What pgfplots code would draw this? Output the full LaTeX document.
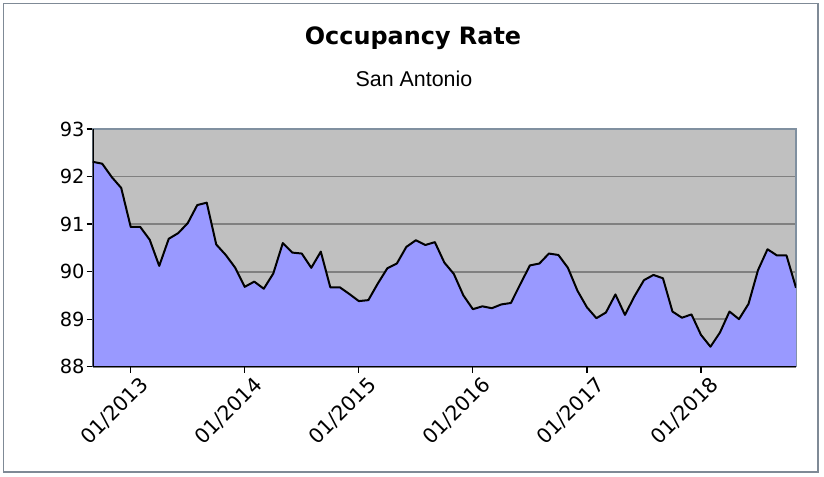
\documentclass[border=0pt]{standalone}
\usepackage{fontspec}
\usepackage{pgfplots}
\pgfplotsset{compat=1.18}
\setmainfont{DejaVu Sans}
\newfontfamily\arialfont{Liberation Sans}
\definecolor{plotgray}{HTML}{C0C0C0}
\definecolor{gridgray}{HTML}{808080}
\definecolor{areablue}{HTML}{9999FF}
\definecolor{framegray}{HTML}{8090A0}
\definecolor{outergray}{HTML}{7F8A96}
\begin{document}
\begin{tikzpicture}[x=1bp,y=1bp]
\path[use as bounding box] (0,0) rectangle (824,477);
\draw[outergray, line width=1.5bp] (3.5,5) rectangle (818,473.5);
\node[anchor=base, font=\fontsize{24}{24}\selectfont\bfseries, inner sep=0pt] at (413,432) {Occupancy Rate};
\node[anchor=base, font=\arialfont\fontsize{21.5}{21.5}\selectfont, inner sep=0pt] at (414,390) {San Antonio};
\begin{axis}[
  at={(92.7bp,110.3bp)}, anchor=south west,
  scale only axis, width=703.3bp, height=237.7bp,
  xmin=0, xmax=74, ymin=88, ymax=93,
  xtick={4,16,28,40,52,64},
  xticklabels={01/2013,01/2014,01/2015,01/2016,01/2017,01/2018},
  ytick={88,89,90,91,92,93},
  axis background/.style={fill=plotgray},
  ymajorgrids, grid style={gridgray, line width=1.8bp},
  axis line style={framegray, line width=1.5bp},
  tick align=outside, tick pos=left,
  major tick length=6bp,
  tick style={black, line width=1.2bp},
  /pgf/number format/assume math mode=true,
  x tick label style={rotate=45, anchor=north east, font=\fontsize{20.5}{20.5}\selectfont, inner sep=1pt, xshift=5bp, yshift=-6bp},
  y tick label style={font=\fontsize{19.5}{19.5}\selectfont, inner sep=2pt},
]
\addplot[fill=areablue, draw=none] coordinates {
(0,92.31) (1,92.27) (2,91.99) (3,91.76) (4,90.94) (5,90.94) (6,90.67) (7,90.12) (8,90.69) (9,90.81)
(10,91.02) (11,91.40) (12,91.45) (13,90.57) (14,90.35) (15,90.08) (16,89.68) (17,89.79) (18,89.64) (19,89.96)
(20,90.60) (21,90.40) (22,90.38) (23,90.08) (24,90.42) (25,89.67) (26,89.67) (27,89.53) (28,89.38) (29,89.40)
(30,89.75) (31,90.07) (32,90.17) (33,90.52) (34,90.66) (35,90.56) (36,90.62) (37,90.19) (38,89.95) (39,89.50)
(40,89.21) (41,89.27) (42,89.23) (43,89.31) (44,89.34) (45,89.74) (46,90.13) (47,90.17) (48,90.38) (49,90.35)
(50,90.08) (51,89.60) (52,89.25) (53,89.02) (54,89.14) (55,89.52) (56,89.09) (57,89.48) (58,89.82) (59,89.93)
(60,89.86) (61,89.16) (62,89.03) (63,89.10) (64,88.67) (65,88.42) (66,88.72) (67,89.16) (68,89.00) (69,89.32)
(70,90.03) (71,90.47) (72,90.34) (73,90.34) (74,89.66)
} \closedcycle;
\addplot[black, line width=2bp, line join=round] coordinates {
(0,92.31) (1,92.27) (2,91.99) (3,91.76) (4,90.94) (5,90.94) (6,90.67) (7,90.12) (8,90.69) (9,90.81)
(10,91.02) (11,91.40) (12,91.45) (13,90.57) (14,90.35) (15,90.08) (16,89.68) (17,89.79) (18,89.64) (19,89.96)
(20,90.60) (21,90.40) (22,90.38) (23,90.08) (24,90.42) (25,89.67) (26,89.67) (27,89.53) (28,89.38) (29,89.40)
(30,89.75) (31,90.07) (32,90.17) (33,90.52) (34,90.66) (35,90.56) (36,90.62) (37,90.19) (38,89.95) (39,89.50)
(40,89.21) (41,89.27) (42,89.23) (43,89.31) (44,89.34) (45,89.74) (46,90.13) (47,90.17) (48,90.38) (49,90.35)
(50,90.08) (51,89.60) (52,89.25) (53,89.02) (54,89.14) (55,89.52) (56,89.09) (57,89.48) (58,89.82) (59,89.93)
(60,89.86) (61,89.16) (62,89.03) (63,89.10) (64,88.67) (65,88.42) (66,88.72) (67,89.16) (68,89.00) (69,89.32)
(70,90.03) (71,90.47) (72,90.34) (73,90.34) (74,89.66)
};
\draw[black, line width=1.8bp] (rel axis cs:0,1) -- (rel axis cs:0,0) -- (rel axis cs:1,0);
\end{axis}
\end{tikzpicture}
\end{document}
